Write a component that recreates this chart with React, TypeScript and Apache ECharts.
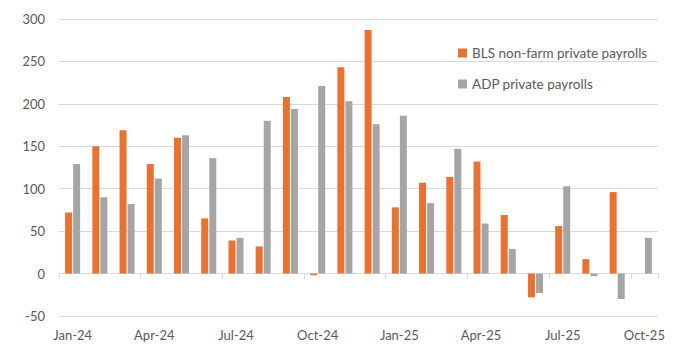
import React, { useEffect, useRef } from "react";
import * as echarts from "echarts";

const months = [
  "Jan-24", "Feb-24", "Mar-24", "Apr-24", "May-24", "Jun-24", "Jul-24", "Aug-24",
  "Sep-24", "Oct-24", "Nov-24", "Dec-24", "Jan-25", "Feb-25", "Mar-25", "Apr-25",
  "May-25", "Jun-25", "Jul-25", "Aug-25", "Sep-25", "Oct-25",
];
const blsPrivate: (number | null)[] = [
  72, 150, 169, 129, 160, 65, 39, 32, 208, -2, 243, 287,
  78, 107, 114, 132, 69, -28, 56, 17, 96, null,
];
const adpPrivate: (number | null)[] = [
  129, 90, 82, 112, 163, 136, 42, 180, 194, 221, 203, 176,
  186, 83, 147, 59, 29, -23, 103, -3, -30, 42,
];
const seriesNames = ["BLS non-farm private payrolls", "ADP private payrolls"];

const FONT = "Lato, 'Open Sans', sans-serif";
const TEXT = "#595959";

export default function App() {
  const ref = useRef<HTMLDivElement>(null);
  useEffect(() => {
    if (!ref.current) return;
    const chart = echarts.init(ref.current, null, { renderer: "svg" });
    chart.setOption({
      animation: false,
      textStyle: { fontFamily: FONT },
      grid: { left: 59, right: 24, top: 19, bottom: 40, containLabel: false },
      legend: {
        orient: "vertical",
        left: 453,
        top: 41,
        itemWidth: 9,
        itemHeight: 9,
        itemGap: 17,
        icon: "rect",
        data: seriesNames,
        textStyle: { fontSize: 13.5, color: TEXT, fontFamily: FONT },
      },
      xAxis: [
        {
          type: "category",
          data: months,
          axisLine: { onZero: true, lineStyle: { color: "#D9D9D9", width: 1 } },
          axisTick: { show: true, interval: 2, length: 5, lineStyle: { color: "#D9D9D9" } },
          axisLabel: { show: false },
        },
        {
          type: "category",
          data: months,
          position: "bottom",
          axisLine: { show: false, onZero: false },
          axisTick: { show: false },
          axisLabel: {
            show: true,
            interval: 2,
            color: TEXT,
            fontSize: 13,
            margin: 12,
            fontFamily: FONT,
          },
        },
      ],
      yAxis: {
        type: "value",
        min: -50,
        max: 300,
        interval: 50,
        axisLine: { show: false },
        axisTick: { show: false },
        axisLabel: { color: TEXT, fontSize: 13, margin: 14, fontFamily: FONT },
        splitLine: { lineStyle: { color: "#D9D9D9", width: 1 } },
      },
      series: [
        {
          name: seriesNames[0],
          type: "bar",
          xAxisIndex: 0,
          data: blsPrivate,
          barWidth: 7,
          barGap: "15%",
          itemStyle: { color: "#E97132" },
        },
        {
          name: seriesNames[1],
          type: "bar",
          xAxisIndex: 0,
          data: adpPrivate,
          barWidth: 7,
          barGap: "15%",
          itemStyle: { color: "#A5A5A5" },
        },
      ],
    });
    return () => chart.dispose();
  }, []);
  return <div ref={ref} style={{ width: 682, height: 356, margin: -8 }} />;
}
